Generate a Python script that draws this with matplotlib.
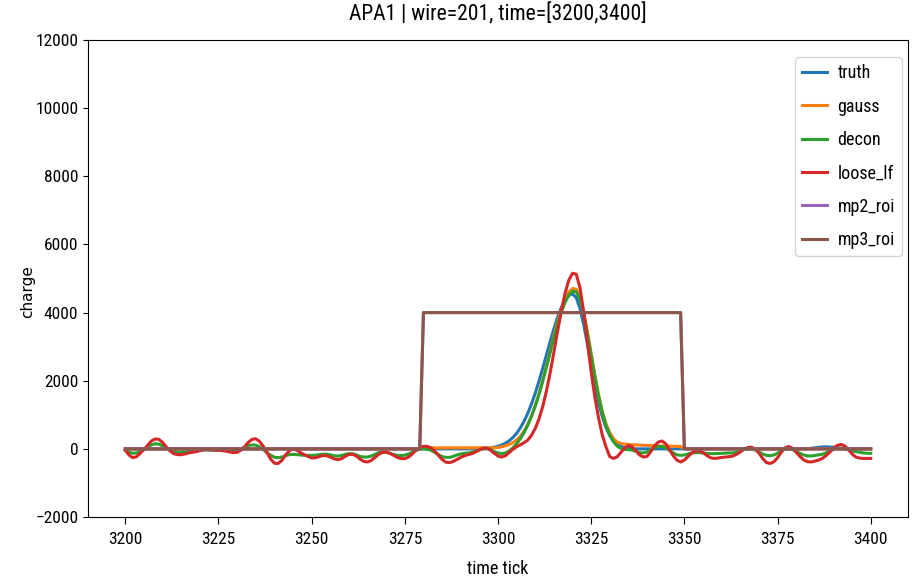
import numpy as np
import matplotlib.pyplot as plt

# 横轴: time tick 3200~3400
ticks = np.arange(3200, 3401)

truth = ([0] * 98 +
         [33, 50, 77, 115, 166, 238, 334, 457, 616, 812, 1046, 1324, 1640, 1990, 2368, 2760,
          3152, 3525, 3865, 4150, 4368, 4505, 4550, 4439, 4122, 3644, 3066, 2454, 1870, 1357,
          937, 616, 385, 229, 130, 70, 36, 18, 8] +
         [0] * 46 +
         [5, 15, 30, 45, 55, 60, 55, 45, 30, 15, 5] +
         [0] * 7)

gauss = ([0] * 80 +
         [30] * 18 +
         [30, 32, 40, 60, 90, 130, 185, 260, 370, 520, 720, 970, 1270, 1620, 2010, 2430,
          2870, 3310, 3720, 4090, 4390, 4600, 4706, 4690, 4452, 4018, 3440, 2797, 2160, 1584,
          1104, 730, 470, 300, 200, 160, 140, 130, 120, 115, 110, 105, 100, 95, 90, 88,
          85, 82, 80, 78, 75, 72] +
         [0] * 51)

decon = [-40, -100, -130, -120, -80, -20, 50, 120, 150, 140,
         90, 20, -40, -80, -100, -100, -90, -80, -60, -50,
         -40, -35, -35, -40, -40, -45, -50, -55, -60, -60,
         -40, 0, 50, 95, 117, 110, 60, -20, -110, -190,
         -245, -258, -240, -200, -170, -160, -170, -180, -190, -190,
         -190, -185, -170, -155, -155, -175, -200, -210, -195, -160,
         -140, -145, -180, -220, -240, -240, -210, -160, -110, -93,
         -100, -130, -165, -190, -195, -185, -150, -100, -45, -5,
         0, -10, -40, -100, -170, -225, -250, -250, -220, -180,
         -150, -130, -120, -100, -70, -30, 10, 20, -20, -80,
         -120, -140, -120, -60, 30, 150, 300, 480, 700, 960,
         1260, 1600, 1990, 2400, 2830, 3260, 3660, 4010, 4300, 4510,
         4630, 4610, 4370, 3945, 3375, 2740, 2110, 1540, 1060, 680,
         400, 210, 80, 10, -20, -20, -40, -70, -110, -120,
         -90, -20, 40, 70, 70, 30, -40, -120, -175, -190,
         -180, -150, -120, -110, -110, -120, -135, -140, -140, -135,
         -130, -125, -120, -120, -100, -60, -20, 0, 0, -30,
         -90, -150, -190, -200, -180, -130, -60, -10, 0, -20,
         -70, -130, -180, -205, -210, -195, -175, -160, -120, -70,
         -20, 10, 20, 0, -30, -60, -80, -100, -120, -130,
         -130]

loose_lf = [-40, -180, -258, -230, -130, -20, 110, 230, 290, 280,
            190, 60, -60, -140, -170, -170, -150, -120, -100, -85,
            -50, -25, -20, -25, -35, -40, -50, -65, -90, -110,
            -100, -40, 60, 190, 280, 297, 220, 80, -100, -300,
            -420, -430, -340, -180, -60, 0, -40, -110, -170, -220,
            -268, -260, -230, -195, -200, -240, -290, -316, -290, -220,
            -165, -160, -210, -300, -370, -385, -340, -250, -160, -100,
            -95, -130, -190, -250, -285, -287, -240, -150, -40, 40,
            75, 73, 30, -60, -190, -310, -390, -404, -370, -310,
            -250, -200, -170, -140, -90, -30, 20, 25, -40, -130,
            -210, -240, -200, -110, -10, 60, 120, 180, 260, 400,
            600, 880, 1240, 1700, 2240, 2840, 3460, 4055, 4570, 4952,
            5154, 5128, 4725, 4013, 3142, 2265, 1507, 900, 400, 50,
            -230, -280, -230, -100, 30, 100, 60, -60, -180, -240,
            -220, -80, 90, 200, 230, 150, -20, -200, -330, -385,
            -330, -220, -120, -60, -60, -110, -190, -260, -280, -270,
            -250, -240, -230, -210, -160, -90, -10, 40, 50, 0,
            -120, -280, -400, -430, -380, -260, -100, 30, 70, 20,
            -100, -220, -320, -375, -385, -360, -330, -280, -200, -100,
            20, 100, 130, 90, -20, -150, -240, -270, -280, -280,
            -280]

# roi 区间 [3280, 3349], 高度画成 4000
mp2_roi = [0] * 80 + [4000] * 70 + [0] * 51
mp3_roi = [0] * 80 + [4000] * 70 + [0] * 51

# 窄体字优先, 找不到就退回 DejaVu Sans
plt.rcParams['font.family'] = ['DejaVu Sans Condensed', 'Roboto Condensed',
                               'Open Sans Condensed', 'DejaVu Sans']

fig = plt.figure(figsize=(9.13, 5.8), dpi=100)
ax = fig.add_axes([0.0964, 0.1086, 0.8981, 0.8224])

for y, name in [(truth, 'truth'), (gauss, 'gauss'), (decon, 'decon'),
                (loose_lf, 'loose_lf'), (mp2_roi, 'mp2_roi'), (mp3_roi, 'mp3_roi')]:
    ax.plot(ticks, y, lw=2.2, label=name)

ax.set_ylim(-2000, 12000)
ax.set_xticks(np.arange(3200, 3401, 25))
ax.tick_params(labelsize=12.5)
ax.tick_params(axis='x', length=5, pad=6)
ax.set_title('APA1 | wire=201, time=[3200,3400]', fontsize=15.5, pad=14)
ax.set_xlabel('time tick', fontsize=13, labelpad=9)
ax.set_ylabel('charge', fontsize=11, family='DejaVu Sans')
ax.yaxis.set_label_coords(-0.064, 0.473)
ax.legend(loc='upper right', bbox_to_anchor=(0.9927, 0.964), borderaxespad=0,
          fontsize=13, labelspacing=0.85, handlelength=1.4, handletextpad=0.55)

fig.savefig('out.png')
